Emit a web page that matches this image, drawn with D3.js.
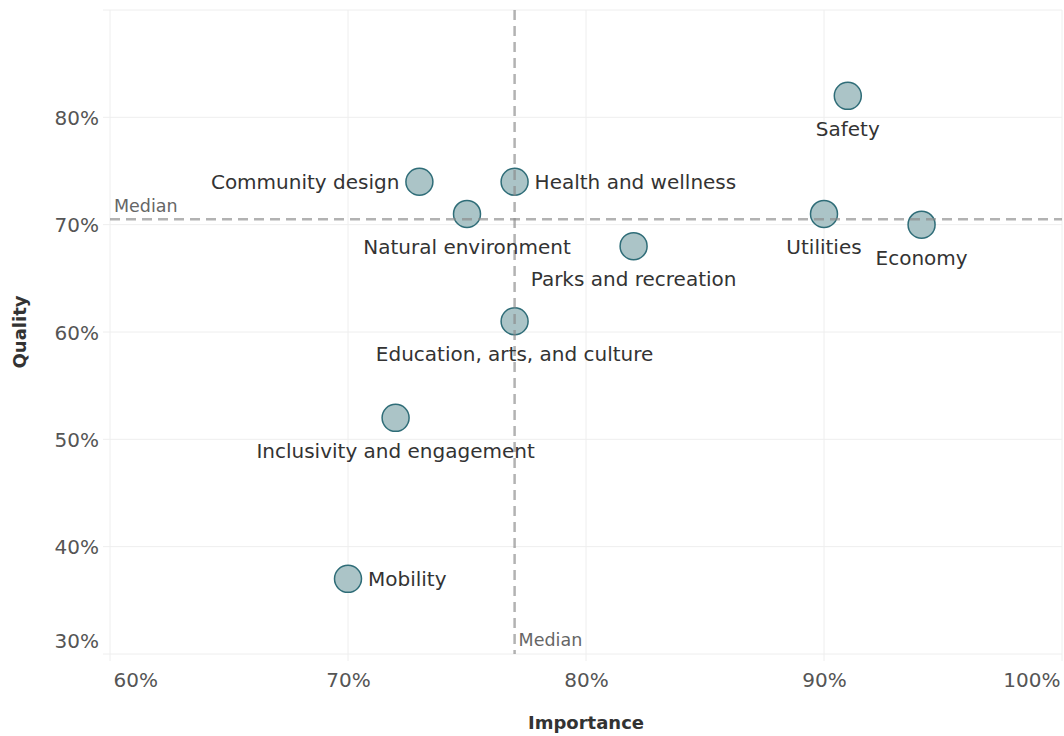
<!DOCTYPE html>
<html>
<head>
<meta charset="utf-8">
<script src="https://cdn.jsdelivr.net/npm/d3@7"></script>
<style>
  body { margin: 0; background: #fff; }
  text { font-family: "DejaVu Sans", sans-serif; }
</style>
</head>
<body>
<svg id="chart" width="1064" height="736"></svg>
<script>
const names = ["Safety", "Community design", "Health and wellness", "Natural environment",
  "Parks and recreation", "Utilities", "Economy", "Education, arts, and culture",
  "Inclusivity and engagement", "Mobility"];
const importance = [0.91, 0.73, 0.77, 0.75, 0.82, 0.90, 0.941, 0.77, 0.72, 0.70];
const quality = [0.82, 0.74, 0.74, 0.71, 0.68, 0.71, 0.70, 0.61, 0.52, 0.37];
// where the label sits relative to its mark
const labelPos = ["below", "left", "right", "below", "below", "below", "below", "below", "below", "right"];
const xTicks = [0.6, 0.7, 0.8, 0.9, 1.0];
const yTicks = [0.3, 0.4, 0.5, 0.6, 0.7, 0.8];

const points = names.map((n, i) => ({ name: n, x: importance[i], y: quality[i], pos: labelPos[i] }));

const svg = d3.select("#chart");
const plotLeft = 110, plotRight = 1062, plotTop = 10, plotBottom = 654;

const x = d3.scaleLinear().domain([0.6, 1.0]).range([plotLeft, plotRight]);
const y = d3.scaleLinear().domain([0.3, 0.9]).range([plotBottom, plotTop]);
const pct = d3.format(".0%");

const grid = svg.append("g");

// horizontal gridlines
grid.selectAll(".hg")
  .data(yTicks.concat([0.9]))
  .enter().append("line")
    .attr("x1", plotLeft - 7).attr("x2", plotRight)
    .attr("y1", d => y(d)).attr("y2", d => y(d))
    .attr("stroke", "#eeeeee").attr("stroke-width", 1);

// vertical gridlines
grid.selectAll(".vg")
  .data(xTicks)
  .enter().append("line")
    .attr("x1", d => x(d)).attr("x2", d => x(d))
    .attr("y1", plotTop).attr("y2", plotBottom + 7)
    .attr("stroke", "#eeeeee").attr("stroke-width", 1);

// y axis labels
const yAxis = svg.append("g")
    .attr("transform", `translate(${plotLeft - 11},0)`)
    .call(d3.axisLeft(y).tickValues(yTicks).tickFormat(pct).tickSize(0).tickPadding(0));
yAxis.select(".domain").remove();
yAxis.selectAll("text")
    .attr("font-size", 20).attr("fill", "#555")
    .attr("font-family", "DejaVu Sans")
    .attr("dy", d => d === 0.3 ? "-0.35em" : "0.36em");

// x axis labels
const xAxis = svg.append("g")
    .attr("transform", `translate(0,${plotBottom + 16})`)
    .call(d3.axisBottom(x).tickValues(xTicks).tickFormat(pct).tickSize(0).tickPadding(0));
xAxis.select(".domain").remove();
xAxis.selectAll("text")
    .attr("font-size", 20).attr("fill", "#555")
    .attr("font-family", "DejaVu Sans")
    .attr("dy", "0.85em")
    .attr("text-anchor", d => d === 0.6 ? "start" : d === 1.0 ? "end" : "middle")
    .attr("dx", d => d === 0.6 ? 3 : d === 1.0 ? -2 : 0);

// axis titles
svg.append("text")
    .attr("x", (plotLeft + plotRight) / 2).attr("y", 729)
    .attr("text-anchor", "middle")
    .attr("font-size", 18).attr("font-weight", "bold").attr("fill", "#333")
    .text("Importance");

svg.append("text")
    .attr("transform", `translate(26,${(plotTop + plotBottom) / 2}) rotate(-90)`)
    .attr("text-anchor", "middle")
    .attr("font-size", 18).attr("font-weight", "bold").attr("fill", "#333")
    .text("Quality");

// points
svg.append("g")
  .selectAll("circle")
  .data(points)
  .enter().append("circle")
    .attr("cx", d => x(d.x))
    .attr("cy", d => y(d.y))
    .attr("r", 13.5)
    .attr("fill", "#abc4c7")
    .attr("stroke", "#2f6d78")
    .attr("stroke-width", 1.5);

// median reference lines
const medX = d3.median(importance);
const medY = d3.median(quality);

svg.append("line")
    .attr("x1", x(medX)).attr("x2", x(medX))
    .attr("y1", plotTop).attr("y2", plotBottom)
    .attr("stroke", "#888").attr("stroke-opacity", 0.65)
    .attr("stroke-width", 2.5).attr("stroke-dasharray", "10,6");

svg.append("line")
    .attr("x1", plotLeft).attr("x2", plotRight)
    .attr("y1", y(medY)).attr("y2", y(medY))
    .attr("stroke", "#888").attr("stroke-opacity", 0.65)
    .attr("stroke-width", 2.5).attr("stroke-dasharray", "10,6");

svg.append("text")
    .attr("x", plotLeft + 4).attr("y", y(medY) - 7)
    .attr("font-size", 17.5).attr("fill", "#666")
    .text("Median");

svg.append("text")
    .attr("x", x(medX) + 4).attr("y", plotBottom - 8)
    .attr("font-size", 17.5).attr("fill", "#666")
    .text("Median");

// point labels
svg.append("g")
  .selectAll("text")
  .data(points)
  .enter().append("text")
    .attr("x", d => x(d.x) + (d.pos === "right" ? 20 : d.pos === "left" ? -20 : 0))
    .attr("y", d => y(d.y) + (d.pos === "below" ? 33 : 0))
    .attr("dy", "0.36em")
    .attr("text-anchor", d => d.pos === "right" ? "start" : d.pos === "left" ? "end" : "middle")
    .attr("font-size", 20).attr("fill", "#333")
    .text(d => d.name);
</script>
</body>
</html>
